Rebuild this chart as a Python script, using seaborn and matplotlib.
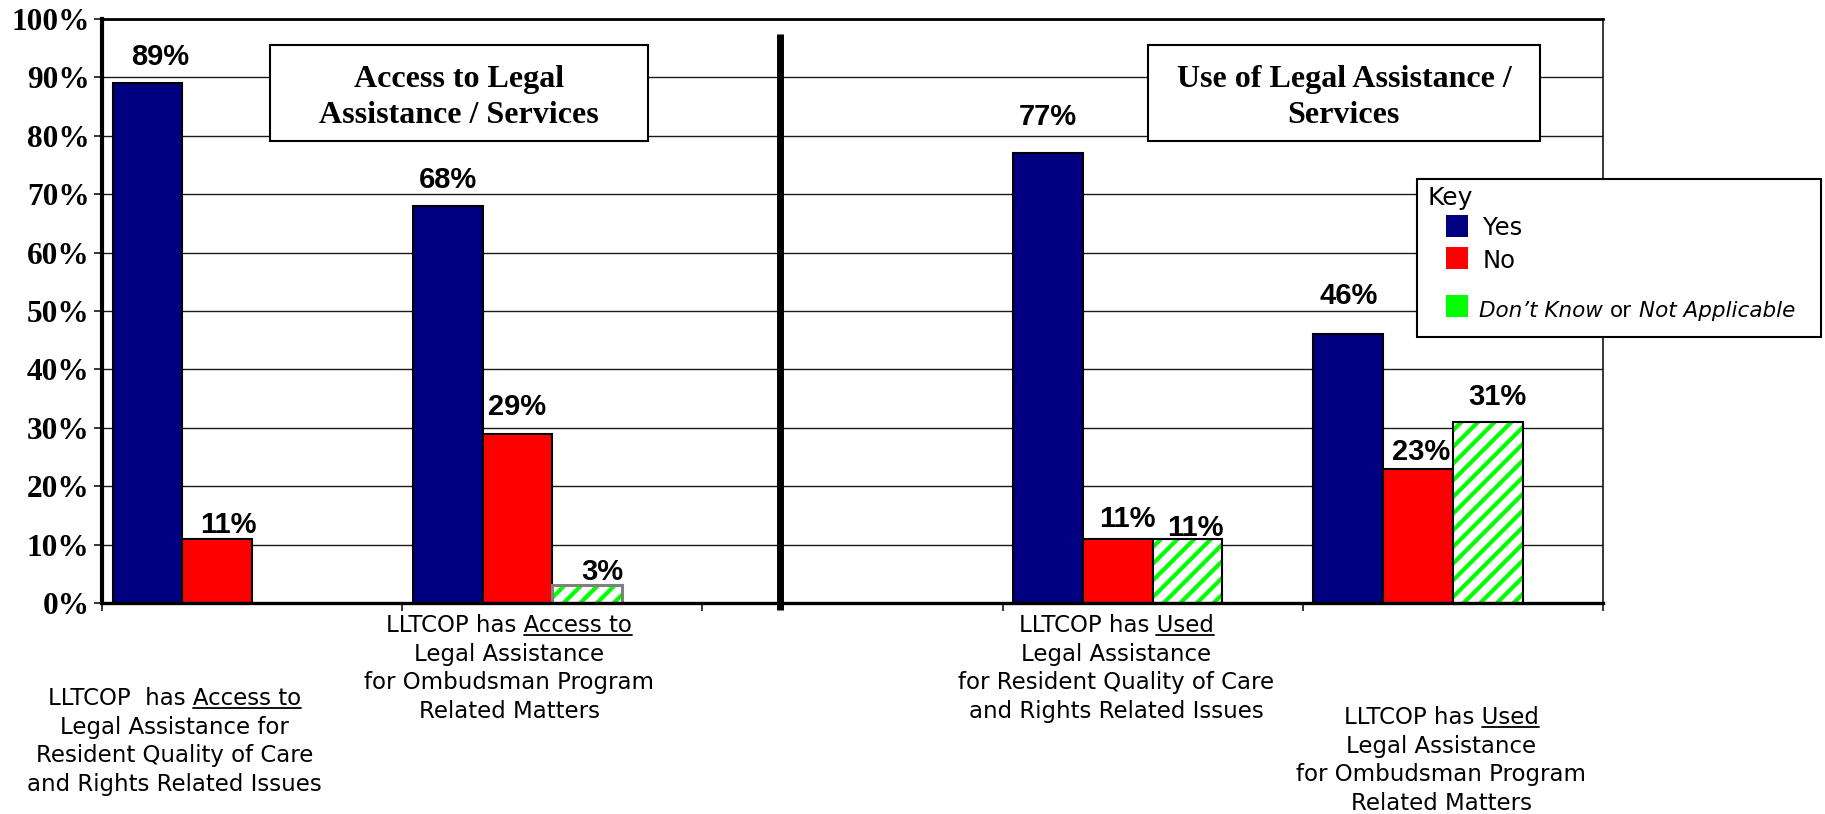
import numpy as np
import pandas as pd
import matplotlib
matplotlib.use("Agg")
import matplotlib.pyplot as plt
import matplotlib.transforms as mtransforms
from matplotlib.patches import Rectangle
from matplotlib.lines import Line2D
import seaborn as sns

# ---------------- data ----------------
category_lines = [
    ["LLTCOP  has Access to", "Legal Assistance for",
     "Resident Quality of Care", "and Rights Related Issues"],
    ["LLTCOP has Access to", "Legal Assistance",
     "for Ombudsman Program", "Related Matters"],
    [],
    ["LLTCOP has Used", "Legal Assistance",
     "for Resident Quality of Care", "and Rights Related Issues"],
    ["LLTCOP has Used", "Legal Assistance",
     "for Ombudsman Program", "Related Matters"],
]
underlined = ["Access to", "Access to", None, "Used", "Used"]
responses = ["Yes", "No", "Don’t Know or Not Applicable"]
yes_pct = [89, 68, np.nan, 77, 46]
no_pct = [11, 29, np.nan, 11, 23]
dk_pct = [np.nan, 3, np.nan, 11, 31]
panel_titles = ["Access to Legal\nAssistance / Services",
                "Use of Legal Assistance /\nServices"]
y_ticks = list(range(0, 101, 10))

# ---------------- style ----------------
W, H = 1825, 814
NAVY, RED, GREEN = "#000080", "#FF0000", "#00FF00"
SPACER = "_gap"
BAR_SPAN = 0.93
N_SLOTS = 4
dk_outline = {1: "#808080"}          # thin grey outline on the smallest hatched bar
# (dx, dy) pixel nudges of the value labels: dy = label centre above bar top
label_nudge = {
    (0, 0): (13, 28), (0, 1): (11, 16),
    (1, 0): (0, 28), (1, 1): (0, 29), (1, 2): (15, 15),
    (3, 0): (0, 38), (3, 1): (10, 22), (3, 2): (8, 13),
    (4, 0): (0, 40), (4, 1): (3, 19), (4, 2): (10, 27),
}
cat_label_x = [-0.258, 0.856, None, 2.878, 3.962]
cat_label_baseline = [705, 632, None, 632, 724]
CAT_LINE_STEP = 28.7

sns.set_theme(style="white")
plt.rcParams["font.family"] = ["DejaVu Sans"]
plt.rcParams["text.color"] = "black"
plt.rcParams["axes.labelcolor"] = "black"
plt.rcParams["xtick.color"] = "black"
plt.rcParams["ytick.color"] = "black"
plt.rcParams["hatch.linewidth"] = 3.0

fig = plt.figure(figsize=(W / 100, H / 100), dpi=100)
ax = fig.add_axes([102 / W, 211 / H, 1501 / W, 584 / H])

cat_keys = ["\n".join(l) if l else " " for l in category_lines]
rows = []
for key, y, n, d in zip(cat_keys, yes_pct, no_pct, dk_pct):
    for resp, v in zip(responses + [SPACER], [y, n, d, np.nan]):
        rows.append({"category": key, "response": resp, "pct": v})
df = pd.DataFrame(rows)
df["pct"] = df["pct"].fillna(0)

sns.barplot(data=df, x="category", y="pct", hue="response",
            order=cat_keys, hue_order=responses + [SPACER],
            palette=[NAVY, RED, "white", "white"], saturation=1,
            width=BAR_SPAN, errorbar=None, legend=False,
            edgecolor="black", linewidth=1.5, ax=ax)

bar_w = BAR_SPAN / N_SLOTS
label_font = dict(family="Liberation Sans", weight="bold", size=21, color="black")
for bar in list(ax.patches):
    h = bar.get_height()
    cx = bar.get_x() + bar.get_width() / 2
    cat = int(round(cx))
    hue = int(round((cx - cat + BAR_SPAN / 2 - bar_w / 2) / bar_w))
    if not (h > 0) or hue >= len(responses):
        bar.remove()
        continue
    bar.set_zorder(2)
    if hue == 2:
        bar.set_facecolor("white")
        bar.set_edgecolor(GREEN)
        bar.set_linewidth(0)
        bar.set_hatch("//")
        ax.add_patch(Rectangle((bar.get_x(), 0), bar.get_width(), h,
                               fill=False, lw=1.5 if cat not in dk_outline else 2.2,
                               edgecolor=dk_outline.get(cat, "black"), zorder=2.2))
    dx, dy = label_nudge.get((cat, hue), (0, 25))
    ax.annotate(f"{h:.0f}%", xy=(cx, h), xytext=(dx, dy - 10),
                textcoords="offset pixels", ha="center", va="baseline",
                zorder=5, **label_font)

# ---------------- axes ----------------
ax.set_xlim(-0.5, 4.5)
ax.set_ylim(0, 100)
ax.set_xlabel("")
ax.set_ylabel("")
ax.set_xticks(np.arange(-0.5, 5.0, 1.0))
ax.set_xticklabels([])
ax.set_yticks(y_ticks)
ax.set_yticklabels([f"{t}%" for t in y_ticks], fontfamily="Liberation Serif",
                   fontweight="bold", fontsize=22.5, color="black")
ax.tick_params(axis="y", direction="out", left=True, length=6, width=1.1,
               pad=3.0, color="black")
ax.tick_params(axis="x", direction="out", bottom=True, length=6, width=1.1,
               color="black")
ax.yaxis.grid(True, color="#1a1a1a", linewidth=1.0)
ax.xaxis.grid(False)
ax.set_axisbelow(True)
for side, lw in (("left", 3.0), ("bottom", 2.4), ("top", 2.0), ("right", 1.1)):
    ax.spines[side].set_visible(True)
    ax.spines[side].set_color("black")
    ax.spines[side].set_linewidth(lw)

# divider between the two panels
ax.add_line(Line2D([1.757, 1.757], [97.5, -1.2], lw=5, color="black",
                   solid_capstyle="butt", clip_on=False, zorder=3))

# panel title boxes
title_boxes = [(0.060, 1.319), (2.984, 4.290)]
for (x0, x1), title in zip(title_boxes, panel_titles):
    ax.add_patch(Rectangle((x0, 79.1), x1 - x0, 16.4, facecolor="white",
                           edgecolor="black", lw=1.5, zorder=3))
    ax.text((x0 + x1) / 2, 86.6, title, ha="center", va="center",
            family="Liberation Serif", weight="bold", size=23,
            linespacing=1.33, zorder=4, color="black")

# ---------------- category labels ----------------
renderer = fig.canvas.get_renderer()
cat_font = dict(family="DejaVu Sans", size=16.5, color="black")
trans = mtransforms.blended_transform_factory(ax.transData, fig.transFigure)
for lines, word, x, base in zip(category_lines, underlined, cat_label_x,
                                cat_label_baseline):
    if not lines:
        continue
    texts = []
    for i, line in enumerate(lines):
        yb = base + i * CAT_LINE_STEP
        texts.append(fig.text(x, 1 - yb / H, line, transform=trans,
                              ha="center", va="baseline", **cat_font))
    if word:
        bb_line = texts[0].get_window_extent(renderer)
        tmp = fig.text(0, 0, word, **cat_font)
        ww = tmp.get_window_extent(renderer).width
        tmp.remove()
        uy = (H - base - 3) / H
        fig.add_artist(Line2D([(bb_line.x1 - ww) / W, bb_line.x1 / W], [uy, uy],
                              transform=fig.transFigure, color="black", lw=1.3))

# ---------------- key ----------------
def fx(px):
    return px / W


def fy(py):
    return 1 - py / H


fig.add_artist(Rectangle((fx(1417), fy(337)), (1821 - 1417) / W, (337 - 179) / H,
                         transform=fig.transFigure, facecolor="white",
                         edgecolor="black", lw=1.5, zorder=5))
fig.text(fx(1428), fy(205), "Key", size=18, ha="left", va="baseline", zorder=6)
swatch = 22
for top, color in ((215, NAVY), (247, RED), (295, GREEN)):
    fig.add_artist(Rectangle((fx(1446), fy(top + swatch)), swatch / W, swatch / H,
                             transform=fig.transFigure, facecolor=color,
                             edgecolor="none", zorder=6))
fig.text(fx(1483), fy(235), responses[0], size=17.5, ha="left", va="baseline", zorder=6)
fig.text(fx(1483), fy(268), responses[1], size=17.5, ha="left", va="baseline", zorder=6)

dk_parts = [("Don’t Know", "italic"), ("or", "normal"), ("Not Applicable", "italic")]
x_cursor = 1479
gap = 0.32 * 15.5 * 100 / 72
for part, style in dk_parts:
    t = fig.text(fx(x_cursor), fy(317), part, size=15.5, style=style,
                 ha="left", va="baseline", zorder=6)
    x_cursor = t.get_window_extent(renderer).x1 + gap

fig.savefig("out.png", dpi=100)
